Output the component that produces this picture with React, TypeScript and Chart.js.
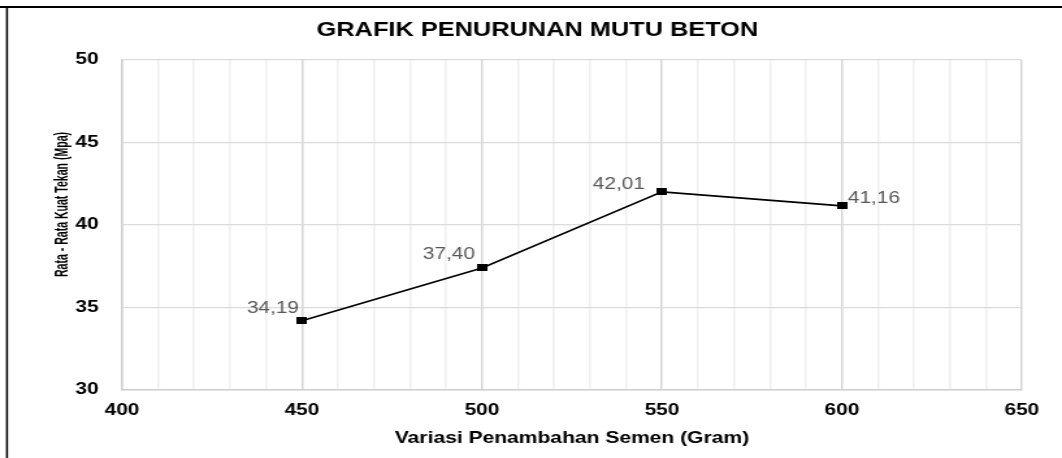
import React, { useEffect, useRef } from 'react';
import { Chart, registerables } from 'chart.js';

Chart.register(...registerables);

// ---- data ----
const cementGrams = [450, 500, 550, 600];
const strengthMpa = [34.19, 37.4, 42.01, 41.16];
const pointLabels = ['34,19', '37,40', '42,01', '41,16'];
const xTickLabels = ['400', '450', '500', '550', '600', '650'];
const yTickLabels = ['30', '35', '40', '45', '50'];
const chartTitle = 'GRAFIK PENURUNAN MUTU BETON';
const xTitle = 'Variasi Penambahan Semen (Gram)';
const yTitle = 'Rata - Rata Kuat Tekan (Mpa)';

// label placement relative to each point (in displayed px)
const labelOffsets = [
  [-3, -8],
  [-7, -9],
  [-17, -3],
  [6, -3],
];

const W = 1062;
const H = 458;
const S = 1.3; // horizontal stretch of the reference picture
const CW = Math.round(W / S);
const FONT = "'Liberation Sans', Arial, sans-serif";

export default function App() {
  const ref = useRef<HTMLCanvasElement | null>(null);

  useEffect(() => {
    const canvas = ref.current;
    if (!canvas) return;

    const marker = document.createElement('canvas');
    marker.width = 8;
    marker.height = 7;
    const mctx = marker.getContext('2d')!;
    mctx.fillStyle = '#000';
    mctx.fillRect(0, 0, 8, 7);

    const plotLeft = 122 / S;
    const plotRight = 1022 / S;
    const padRight = CW - plotRight;
    const titleCenter = 537.5 / S;
    const padLeft = 2 * titleCenter - CW + padRight;

    const decor = {
      id: 'decor',
      beforeDraw(chart: any) {
        const c = chart.ctx;
        c.save();
        c.fillStyle = '#fff';
        c.fillRect(0, 0, chart.width, chart.height);
        c.restore();
      },
      afterDraw(chart: any) {
        const c = chart.ctx;
        c.save();
        // outer frame
        c.strokeStyle = '#000';
        c.lineWidth = 2;
        c.beginPath();
        c.moveTo(0, 7);
        c.lineTo(chart.width, 7);
        c.stroke();
        c.lineWidth = 2 / S;
        c.beginPath();
        c.moveTo(7 / S, 6);
        c.lineTo(7 / S, chart.height);
        c.stroke();

        // y-axis title
        c.save();
        c.translate(62.5 / S, 204.5);
        c.rotate(-Math.PI / 2);
        c.font = `bold 15.5px 'Liberation Sans Narrow', ${FONT}`;
        const w = c.measureText(yTitle).width;
        c.scale(145 / w, 1);
        c.fillStyle = '#000';
        c.textAlign = 'center';
        c.textBaseline = 'middle';
        c.fillText(yTitle, 0, 0);
        c.restore();

        // data labels
        const meta = chart.getDatasetMeta(0);
        c.font = `16px ${FONT}`;
        c.fillStyle = '#595959';
        c.textBaseline = 'alphabetic';
        meta.data.forEach((pt: any, i: number) => {
          const [dx, dy] = labelOffsets[i];
          c.textAlign = dx < 0 ? 'right' : 'left';
          c.fillText(pointLabels[i], pt.x + dx / S, pt.y + dy);
        });
        c.restore();
      },
    };

    const chart = new Chart(canvas, {
      type: 'line',
      data: {
        datasets: [
          {
            data: cementGrams.map((x, i) => ({ x, y: strengthMpa[i] })),
            borderColor: '#000',
            backgroundColor: '#000',
            borderWidth: 1.6,
            pointStyle: marker as any,
            pointRadius: 4,
            fill: false,
            tension: 0,
          },
        ],
      },
      options: {
        responsive: false,
        animation: false,
        layout: { padding: { left: padLeft, right: padRight, top: 0, bottom: 0 } },
        plugins: {
          legend: { display: false },
          tooltip: { enabled: false },
          title: {
            display: true,
            text: chartTitle,
            color: '#000',
            font: { family: FONT, size: 19.5, weight: 'bold' },
            padding: { top: 19.2, bottom: 17.4 },
          },
        },
        scales: {
          x: {
            type: 'linear',
            min: 400,
            max: 650,
            afterFit(scale: any) {
              scale.height = H - 390;
            },
            ticks: {
              stepSize: 10,
              autoSkip: false,
              maxRotation: 0,
              padding: 11,
              color: '#000',
              font: { family: FONT, size: 16, weight: 'bold' },
              callback: (v: any) => (xTickLabels.includes(String(v)) ? String(v) : ''),
            },
            grid: {
              drawTicks: false,
              lineWidth: 1.5,
              color: (ctx: any) =>
                ctx.tick && xTickLabels.includes(String(ctx.tick.value)) ? '#d6d6d6' : '#f0f0f0',
            },
            border: { display: true, color: '#cfcfcf', width: 1.5 },
            title: {
              display: true,
              text: xTitle,
              color: '#000',
              font: { family: FONT, size: 16.2, weight: 'bold' },
              padding: { top: 0, bottom: 9.4 },
            },
          },
          y: {
            type: 'linear',
            min: 30,
            max: 50,
            afterFit(scale: any) {
              scale.width = plotLeft - padLeft;
            },
            ticks: {
              stepSize: 5,
              padding: 18,
              color: '#000',
              font: { family: FONT, size: 16, weight: 'bold' },
              callback: (v: any) => (yTickLabels.includes(String(v)) ? String(v) : ''),
            },
            grid: { drawTicks: false, color: '#dcdcdc', lineWidth: 1.2 },
            border: { display: true, color: '#cfcfcf', width: 1.5 },
          },
        },
      },
      plugins: [decor],
    });

    return () => chart.destroy();
  }, []);

  return (
    <div style={{ position: 'absolute', left: 0, top: 0, width: W, height: H, background: '#fff' }}>
      <canvas ref={ref} width={CW} height={H} style={{ width: `${W}px`, height: `${H}px`, display: 'block' }} />
    </div>
  );
}
